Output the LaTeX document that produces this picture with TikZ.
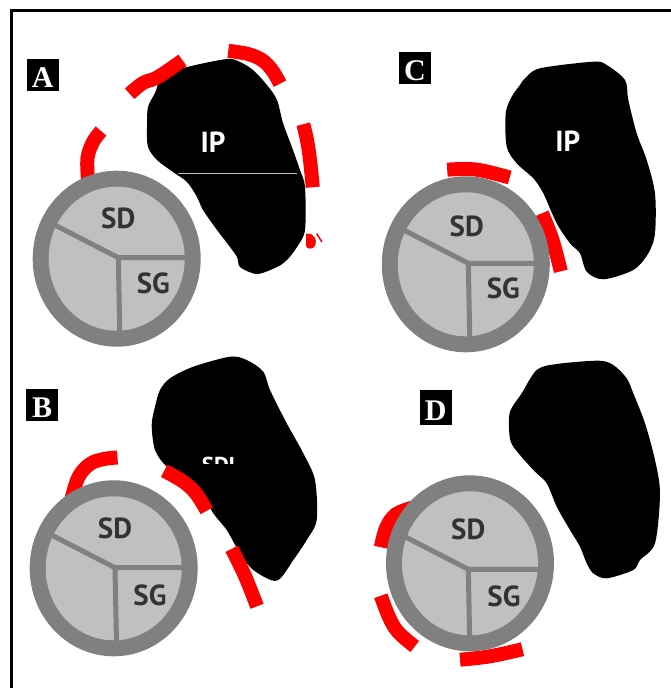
\documentclass[tikz,border=0pt]{standalone}
\usepackage{fontspec}
\usetikzlibrary{calc}
\newfontfamily\letterfont{Liberation Serif}
\newfontfamily\regionfont{PT Sans}
\definecolor{ringgray}{HTML}{808080}
\definecolor{coregray}{HTML}{C0C0C0}
\definecolor{textgray}{HTML}{333333}
\definecolor{markred}{HTML}{FF0000}

% disc with three sectors: #1 tag, #2 centre, #3 sector junction
\newcommand\drawdisc[3]{%
  \fill[ringgray] (#2) ellipse[x radius=84,y radius=88];
  \fill[coregray] (#2) ellipse[x radius=68,y radius=72];
  \coordinate (j#1) at (#3);
  \draw[divider] ($(j#1)+(-68,-35)$) -- (j#1) -- ($(j#1)+(74,0)$);
  \draw[divider] (j#1) -- ($(j#1)+(1.5,76)$);
}

\begin{document}
\begin{tikzpicture}[x=1pt,y=-1pt,
  panelbox/.style={fill=black,text=white,inner sep=0pt,
    font=\letterfont\bfseries\fontsize{30}{30}\selectfont,
    minimum width=32,text height=28.5,text depth=3.5},
  region/.style={inner sep=0pt,text=textgray,
    font=\regionfont\bfseries\fontsize{29}{29}\selectfont},
  bonelabel/.style={inner sep=0pt,text=white,
    font=\regionfont\bfseries\fontsize{29}{29}\selectfont},
  bone/.style={fill=black},
  divider/.style={draw=ringgray,line width=5},
  redband/.style={draw=markred,line width=14,line cap=butt},
]
\useasboundingbox (0,0) rectangle (671,688);

% outer frame (top and left edges)
\coordinate (frameBL) at (11,700);
\coordinate (frameTL) at (11,10.5);
\coordinate (frameTR) at (690,10.5);
\draw[line width=3] (frameBL) -- (frameTL) -- (frameTR);

% ---------- bones ----------
\fill[bone] plot[smooth cycle,tension=0.5] coordinates {
 (163,75) (187,67) (227,59) (240,62) (253,70) (267,85) (277,100) (283,123)
 (293,150) (300,170) (305,187) (305,230) (297,247) (287,260) (277,267)
 (257,274) (240,267) (237,257) (227,243) (217,230) (203,210) (197,197)
 (187,182) (173,172) (157,160) (148,147) (147,127) (148,107) (155,93)};
\fill[bone] plot[smooth cycle,tension=0.5] coordinates {
 (170,378.3) (193.3,366.7) (230,356.7) (246.7,360) (263.3,371.7) (270,390)
 (286.7,423.3) (303.3,453.3) (315,480) (316.7,520) (306.7,540) (293.3,560)
 (276.7,580.7) (253.3,570) (240,553.3) (226.7,530) (213.3,513.3) (200,490)
 (186.7,480) (166.7,466.7) (155,450) (151.7,425) (155,406.7) (160,390)};
\fill[bone] plot[smooth cycle,tension=0.5] coordinates {
 (525,78.3) (540,68.3) (593.3,61.7) (606.7,65) (625,80) (628.3,100)
 (636.7,133.3) (646.7,160) (655,193.3) (655,233.3) (648.3,253.3) (633.3,270)
 (603.3,279.3) (586.7,271.7) (580,253.3) (570,243.3) (556.7,223.3)
 (543.3,193.3) (533.3,178.3) (516.7,163.3) (506.7,146.7) (505.7,113.3)
 (511.7,96.7) (520,85)};
\fill[bone] plot[smooth cycle,tension=0.5] coordinates {
 (521.7,393.3) (536.7,370) (556.7,364) (598.3,360.7) (613.3,365)
 (626.7,378.3) (633.3,393.3) (645,423.3) (655,460) (660,493.3) (655,543.3)
 (640,560) (633.3,570) (606.7,578.3) (593.3,573.3) (586.7,563.3)
 (580,546.7) (570,530) (556.7,506.7) (546.7,483.3) (533.3,470)
 (513.3,446.7) (509.3,433.3) (510,411.7)};

% bone labels
\coordinate (ipLineL) at (178,173);
\coordinate (ipLineR) at (297,173);
\draw[coregray,line width=1] (ipLineL) -- (ipLineR);
\node[bonelabel] (ipA) at (213,142) {IP};
\node[bonelabel] (ipC) at (567.7,141.7) {IP};
\begin{scope}
  \clip (190,440) rectangle (250,463.5);
  \node[bonelabel,anchor=north,font=\regionfont\bfseries\fontsize{23}{23}\selectfont] (sdlB) at (221.3,456.7) {SDL};
\end{scope}

% ---------- red bands ----------
% panel A
\draw[redband] plot[smooth,tension=0.6] coordinates {(88,180) (87.5,158) (93,142) (101,131)};
\draw[redband] plot[smooth,tension=0.6] coordinates {(129.7,93.8) (143,83) (158,77) (182.5,60.3)};
\draw[redband] plot[smooth,tension=0.6] coordinates {(228.3,50.8) (248,54) (262,60) (272,70) (280,83.7)};
\draw[redband] plot[smooth,tension=0.6] coordinates {(303.3,124.2) (307,140) (310,160) (312.8,187.2)};
\fill[markred] (306,234) .. controls (314,232) and (318,240) .. (315,246)
  .. controls (312,250) and (307,249) .. (306,246) -- cycle;
\coordinate (tickA) at (316.5,233.5);
\coordinate (tickB) at (322,242);
\draw[markred,line width=1.5] (tickA) -- (tickB);
% panel B
\draw[redband] plot[smooth,tension=0.6] coordinates {(70,505) (78,478) (90,464) (104,459) (117.5,457.5)};
\draw[redband] plot[smooth,tension=0.6] coordinates {(164.2,470.8) (183,481.5) (196,493.5) (206.7,510.8)};
\draw[redband] plot[smooth,tension=0.6] coordinates {(231.7,548.8) (245,576) (257,606.3)};
% panel C
\draw[redband] plot[smooth,tension=0.6] coordinates {(447.2,169.7) (465,169) (482,170.5) (509.7,177.5)};
\draw[redband] plot[smooth,tension=0.6] coordinates {(542,213.3) (552.5,240) (560.8,271.3)};
% panel D
\draw[redband] plot[smooth,tension=0.6] coordinates {(380.8,547.2) (386,528) (395,515) (408,509) (420,506)};
\draw[redband] plot[smooth,tension=0.6] coordinates {(380.8,595.8) (389,617) (398,632) (414.7,646.5)};
\draw[redband] plot[smooth,tension=0.6] coordinates {(460,659.7) (490,656.3) (522.5,649.2)};

% ---------- discs ----------
\drawdisc{A}{116.7,258.7}{118.3,257.7}
\node[region] (sdA) at (118.3,218.3) {SD};
\node[region] (sgA) at (153.3,283.3) {SG};
\drawdisc{B}{113.7,568.3}{115,567.7}
\node[region] (sdB) at (115,528.3) {SD};
\node[region] (sgB) at (150,595) {SG};
\drawdisc{C}{465.8,264.3}{468.3,263.3}
\node[region] (sdC) at (466.7,226.7) {SD};
\node[region] (sgC) at (503.3,288.3) {SG};
\drawdisc{D}{470,563.3}{468.3,569.3}
\node[region] (sdD) at (468.3,529.3) {SD};
\node[region] (sgD) at (504,596) {SG};

% ---------- panel letters ----------
\node[panelbox] (labA) at (42.8,74.8) {A};
\node[panelbox] (labB) at (42.2,405.3) {B};
\node[panelbox] (labC) at (415,68.3) {C};
\node[panelbox,minimum width=32,text height=31,text depth=4] (labD) at (435.8,407) {D};
\end{tikzpicture}
\end{document}
